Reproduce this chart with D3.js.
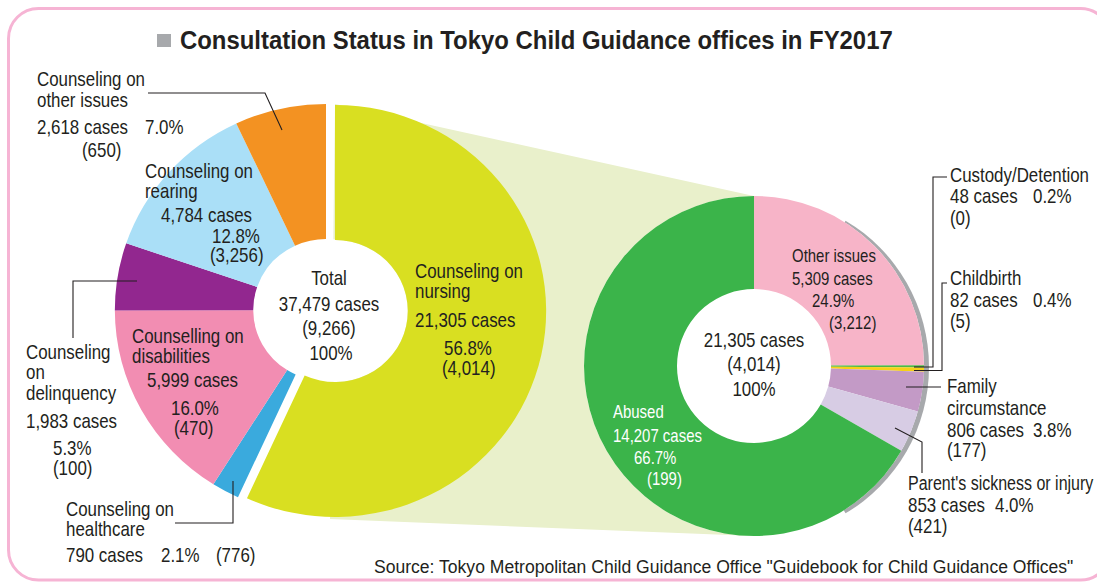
<!DOCTYPE html>
<html><head><meta charset="utf-8">
<script src="https://cdn.jsdelivr.net/npm/d3@7"></script>
<style>
body{margin:0;background:#fff}
svg{display:block}
text{font-family:"Liberation Sans",Arial,Helvetica,sans-serif;fill:#231f20}
</style>
</head><body>
<svg id="chart" width="1097" height="584"></svg>
<script>
// ---------- data ----------
const titleText = "Consultation Status in Tokyo Child Guidance offices in FY2017";
const sourceText = 'Source: Tokyo Metropolitan Child Guidance Office "Guidebook for Child Guidance Offices"';

const leftCategories = ["Counseling on nursing","Counseling on healthcare","Counselling on disabilities","Counseling on delinquency","Counseling on rearing","Counseling on other issues"];
const leftCases   = [21305, 790, 5999, 1983, 4784, 2618];
const leftPercent = [56.8, 2.1, 16.0, 5.3, 12.8, 7.0];
const leftParen   = [4014, 776, 470, 100, 3256, 650];
const leftTotal   = ["Total", 37479, 9266, 100];

const rightCategories = ["Other issues","Custody/Detention","Childbirth","Family circumstance","Parent's sickness or injury","Abused"];
const rightCases   = [5309, 48, 82, 806, 853, 14207];
const rightPercent = [24.9, 0.2, 0.4, 3.8, 4.0, 66.7];
const rightParen   = [3212, 0, 5, 177, 421, 199];
const rightTotal   = [21305, 4014, 100];

// ---------- styles ----------
const leftColors  = ["#d9df21","#3aaadd","#f28db2","#92278f","#aadff7","#f39222"];
const rightColors = ["#f7b4c8","#4fb748","#f7d117","#c39ac6","#d7cce4","#3bb44a"];
const ink = "#231f20";

const svg = d3.select("#chart");
const fmt = d3.format(",");
const casesTxt = v => fmt(v) + " cases";
const pctTxt = p => p.toFixed(1) + "%";
const parenTxt = v => "(" + fmt(v) + ")";
function wrapName(name, counts){
  const w = name.split(" "); const out=[]; let k=0;
  counts.forEach(c=>{ out.push(w.slice(k,k+c).join(" ")); k+=c; });
  return out;
}
function txt(s, x, y, o={}){
  return svg.append("text")
    .attr("transform", `translate(${x},${y}) scale(${o.sx||0.845},1)`)
    .attr("text-anchor", o.anchor||"start")
    .style("font-size", (o.size||20)+"px")
    .style("font-weight", o.weight||"normal")
    .style("fill", o.fill||ink)
    .text(s);
}
// text squeezed to a given width
function fitTxt(s, x, y, width, o={}){
  const t = txt(s, x, y, Object.assign({}, o, {sx:1}));
  const w = t.node().getComputedTextLength();
  t.attr("transform", `translate(${x},${y}) scale(${width/w},1)`);
  return t;
}

// ---------- frame ----------
svg.append("rect").attr("x",8.5).attr("y",8.5).attr("width",1102).attr("height",571.5)
  .attr("rx",30).attr("ry",30).attr("fill","none").attr("stroke","#f6b4d4").attr("stroke-width",3);

// title
svg.append("rect").attr("x",157).attr("y",34).attr("width",14).attr("height",13).attr("fill","#a7a9ac");
fitTxt(titleText, 180, 49, 713, {size:26, weight:"bold"});

// ---------- geometry ----------
const L = {cx:326, cy:310, r0:71, r1:206, sx:1.025, explode:[9,1]};
const R = {cx:754, cy:366, r0:77, r1:170};

// connector band
svg.append("polygon")
  .attr("points", [[L.cx+9,104],[R.cx,196],[R.cx,536],[L.cx+4,519]].map(p=>p.join(",")).join(" "))
  .attr("fill","#e9f0cb");
// white holes
svg.append("ellipse").attr("cx",L.cx+L.explode[0]).attr("cy",L.cy+L.explode[1]).attr("rx",L.r0*L.sx).attr("ry",L.r0).attr("fill","#fff");
svg.append("ellipse").attr("cx",L.cx).attr("cy",L.cy).attr("rx",L.r0*L.sx).attr("ry",L.r0).attr("fill","#fff");
svg.append("circle").attr("cx",R.cx).attr("cy",R.cy).attr("r",R.r0).attr("fill","#fff");

// left pie
const pie = d3.pie().sort(null).value(d=>d);
const leftArcs = pie(leftCases);
const arcL = d3.arc().innerRadius(L.r0).outerRadius(L.r1);
svg.append("g").selectAll("path").data(leftArcs).join("path")
  .attr("transform",(d,i)=>{
    const dx = i===0 ? L.explode[0] : 0, dy = i===0 ? L.explode[1] : 0;
    return `translate(${L.cx+dx},${L.cy+dy}) scale(${L.sx},1)`;
  })
  .attr("d", arcL).attr("fill",(d,i)=>leftColors[i]);

// right donut shadow
const shadowArc = d3.arc().innerRadius(0).outerRadius(R.r1).startAngle(Math.PI*0.17).endAngle(Math.PI*0.83);
svg.append("path").attr("transform",`translate(${R.cx+5},${R.cy+1})`).attr("d",shadowArc()).attr("fill","#a7a9ac");
svg.append("circle").attr("cx",R.cx).attr("cy",R.cy).attr("r",R.r1).attr("fill","#fff");

// right donut
const rightArcs = pie(rightCases);
const arcR = d3.arc().innerRadius(R.r0).outerRadius(R.r1);
svg.append("g").attr("transform",`translate(${R.cx},${R.cy})`)
  .selectAll("path").data(rightArcs).join("path")
  .attr("d", arcR).attr("fill",(d,i)=>rightColors[i]);

// ---------- leader lines ----------
const leaders = [
  [[148,93],[265,93],[282,130]],
  [[137,281],[73,281],[73,338]],
  [[233,481],[233,523],[175,523]],
  [[914,367],[933,367],[933,177],[947,177]],
  [[914,370.5],[942,370.5],[942,283],[947,283]],
  [[906,387],[941,387]],
  [[895,428],[922,442],[922,473]]
];
leaders.forEach(p=>svg.append("polyline").attr("points",p.map(q=>q.join(",")).join(" "))
  .attr("fill","none").attr("stroke",ink).attr("stroke-width",1.1));

// ---------- left labels ----------
const leftLayout = [
  {w:[2,1], n:[[415,278],[415,298]], c:[415,327], p:[444,355], q:[442,375]},
  {w:[2,1], n:[[66,516],[66,536]], c:[66,562], p:[161,562], q:[216,562]},
  {w:[2,1], n:[[132,343],[132,363]], c:[147,387], p:[171,415], q:[174,435]},
  {w:[1,1,1], n:[[26,359],[26,379],[26,400]], c:[26,428], p:[53,455], q:[53,475]},
  {w:[2,1], n:[[145,178],[145,198]], c:[161,222], p:[212,243], q:[210,262]},
  {w:[2,2], n:[[37,86],[37,107]], c:[37,134], p:[145,134], q:[82,157]}
];
leftLayout.forEach((l,i)=>{
  wrapName(leftCategories[i], l.w).forEach((s,k)=>txt(s, l.n[k][0], l.n[k][1]));
  txt(casesTxt(leftCases[i]), l.c[0], l.c[1]);
  txt(pctTxt(leftPercent[i]), l.p[0], l.p[1]);
  txt(parenTxt(leftParen[i]), l.q[0], l.q[1]);
});
txt(leftTotal[0], 329, 285, {anchor:"middle"});
txt(casesTxt(leftTotal[1]), 329, 311, {anchor:"middle"});
txt(parenTxt(leftTotal[2]), 329, 335, {anchor:"middle"});
txt(leftTotal[3] + "%", 331, 360, {anchor:"middle"});

// ---------- right labels ----------
const rightLayout = [
  {w:[2], n:[[792,262]], c:[792,285], p:[812,307], q:[829,329], size:17.7},
  {w:[1], n:[[950,182]], c:[950,203], p:[1033,203], q:[950,225]},
  {w:[1], n:[[950,285]], c:[950,307], p:[1033,307], q:[950,328]},
  {w:[1,1], n:[[947,393],[947,415]], c:[947,437], p:[1033,437], q:[947,457]},
  {w:[4], n:[[908,490]], c:[908,512], p:[995,512], q:[908,533], nameSx:0.8},
  {w:[1], n:[[613,418]], c:[613,442], p:[634,464], q:[647,485], size:17.7, fill:"#ffffff"}
];
rightLayout.forEach((l,i)=>{
  const o = {size:l.size||20, fill:l.fill||ink};
  wrapName(rightCategories[i], l.w).forEach((s,k)=>txt(s, l.n[k][0], l.n[k][1], Object.assign({}, o, l.nameSx?{sx:l.nameSx}:{})));
  txt(casesTxt(rightCases[i]), l.c[0], l.c[1], o);
  txt(pctTxt(rightPercent[i]), l.p[0], l.p[1], o);
  txt(parenTxt(rightParen[i]), l.q[0], l.q[1], o);
});
txt(casesTxt(rightTotal[0]), 754, 347, {anchor:"middle"});
txt(parenTxt(rightTotal[1]), 754, 371, {anchor:"middle"});
txt(rightTotal[2] + "%", 754, 396, {anchor:"middle"});

// source
fitTxt(sourceText, 374, 573, 700, {size:19});
</script>
</body></html>
